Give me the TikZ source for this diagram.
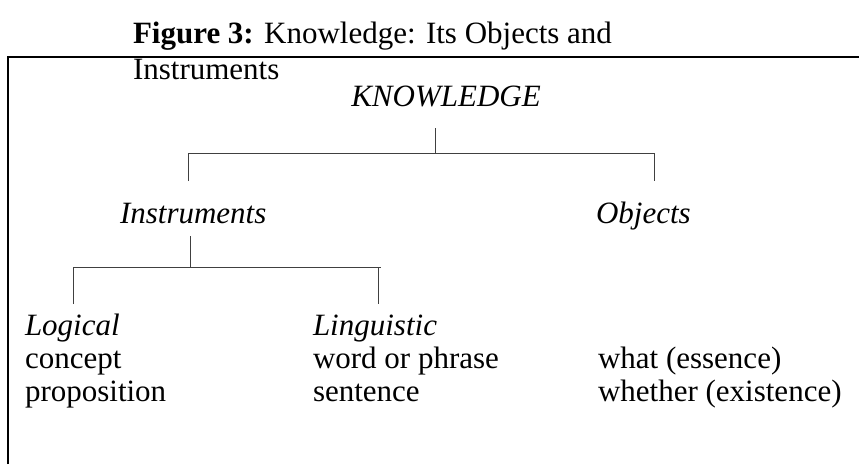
\documentclass[tikz,border=0pt]{standalone}
\usepackage{fontspec}
\setmainfont{Liberation Serif}
\begin{document}
\begin{tikzpicture}[x=1pt,y=-1pt,
  txt/.style={inner sep=0pt,outer sep=0pt,anchor=base west,font=\fontsize{31}{35}\selectfont},
  ital/.style={txt,font=\fontsize{31}{35}\selectfont\itshape},
  tree/.style={draw=black!75,line width=1pt},
  frame/.style={draw=black,line width=2pt}]
\useasboundingbox (0,0) rectangle (859,464);
% title
\node[txt] (t1) at (133,43) {\textbf{Figure 3:} Knowledge: Its Objects and};
\node[txt] (t2) at (133,79) {Instruments};
% frame
\draw[frame] (8,464) -- (8,57) -- (860,57);
% nodes
\node[ital,anchor=base] (know) at (446,106) {KNOWLEDGE};
\node[ital] (instr) at (120,223) {Instruments};
\node[ital] (obj) at (596,223) {Objects};
\node[ital] (log) at (25,335) {Logical};
\node[ital] (ling) at (313,335) {Linguistic};
\node[txt] (concept) at (25,368) {concept};
\node[txt] (prop) at (25,401) {proposition};
\node[txt] (word) at (313,368) {word or phrase};
\node[txt] (sent) at (313,401) {sentence};
\node[txt] (what) at (598,368) {what (essence)};
\node[txt] (whether) at (598,401) {whether (existence)};
% tree coordinates
\coordinate (k1) at (435,128);
\coordinate (k2) at (435,153);
\coordinate (kl) at (188,153);
\coordinate (kr) at (654,153);
\coordinate (kl2) at (188,181);
\coordinate (kr2) at (654,181);
\coordinate (i1) at (190,236);
\coordinate (i2) at (190,267);
\coordinate (il) at (73,267);
\coordinate (ir) at (381,267);
\coordinate (il2) at (73,304);
\coordinate (ir1) at (378,267);
\coordinate (ir2) at (378,304);
\draw[tree] (k1) -- (k2);
\draw[tree] (kl2) -- (kl) -- (kr) -- (kr2);
\draw[tree] (i1) -- (i2);
\draw[tree] (il2) -- (il) -- (ir);
\draw[tree] (ir1) -- (ir2);
\end{tikzpicture}
\end{document}
